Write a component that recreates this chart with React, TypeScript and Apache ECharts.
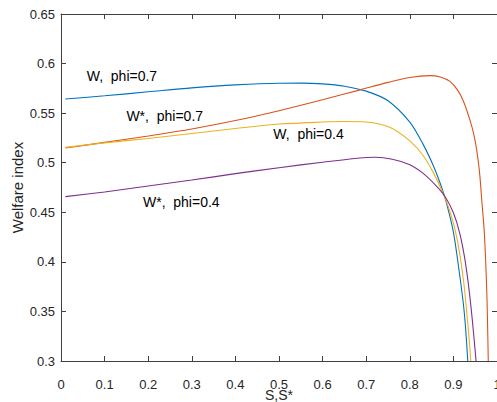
import React, { useEffect, useRef } from "react";
import * as echarts from "echarts";

const xTicks = [0, 0.1, 0.2, 0.3, 0.4, 0.5, 0.6, 0.7, 0.8, 0.9, 1];
const yTicks = [0.3, 0.35, 0.4, 0.45, 0.5, 0.55, 0.6, 0.65];

const seriesNames = ["W,  phi=0.7", "W*,  phi=0.7", "W,  phi=0.4", "W*,  phi=0.4"];
const seriesColors = ["#0072BD", "#D95319", "#EDB120", "#7E2F8E"];

const wPhi07: [number, number][] = [
  [0.01, 0.5643], [0.1, 0.5675], [0.2, 0.5715], [0.3, 0.5755], [0.4, 0.5785],
  [0.5, 0.5802], [0.55, 0.5803], [0.6, 0.5795], [0.65, 0.5772], [0.7, 0.5722],
  [0.75, 0.5625], [0.8, 0.541], [0.83, 0.519], [0.854, 0.497], [0.869, 0.48],
  [0.883, 0.461], [0.9, 0.43], [0.914, 0.388], [0.923, 0.357], [0.928, 0.333],
  [0.933, 0.30],
];
const wStarPhi07: [number, number][] = [
  [0.01, 0.5148], [0.1, 0.5205], [0.2, 0.527], [0.3, 0.534], [0.4, 0.5425],
  [0.5, 0.5525], [0.6, 0.5635], [0.686, 0.5735], [0.75, 0.581], [0.8, 0.586],
  [0.846, 0.5878], [0.87, 0.5865], [0.892, 0.582], [0.91, 0.573], [0.923, 0.562],
  [0.938, 0.543], [0.946, 0.53], [0.9534, 0.513], [0.96, 0.49], [0.965, 0.4624],
  [0.971, 0.4288], [0.976, 0.378], [0.978, 0.345], [0.98, 0.30],
];
const wPhi04: [number, number][] = [
  [0.01, 0.5155], [0.1, 0.52], [0.2, 0.5245], [0.3, 0.5295], [0.4, 0.5345],
  [0.5, 0.539], [0.6, 0.541], [0.65, 0.5415], [0.7, 0.541], [0.755, 0.5355],
  [0.8, 0.522], [0.831, 0.507], [0.854, 0.49], [0.873, 0.4725], [0.892, 0.451],
  [0.9076, 0.425], [0.9227, 0.383], [0.934, 0.333], [0.94, 0.30],
];
const wStarPhi04: [number, number][] = [
  [0.01, 0.4658], [0.1, 0.4705], [0.2, 0.4765], [0.3, 0.4825], [0.4, 0.489],
  [0.5, 0.495], [0.6, 0.5005], [0.7, 0.5053], [0.72, 0.5055], [0.76, 0.5035],
  [0.8, 0.498], [0.83, 0.4895], [0.86, 0.477], [0.88, 0.4665], [0.9, 0.4495],
  [0.915, 0.428], [0.928, 0.398], [0.94, 0.356], [0.952, 0.30],
];

const allSeries = [wPhi07, wStarPhi07, wPhi04, wStarPhi04];

// annotation anchor (left-middle of text) in data coordinates
const annotationPos: [number, number][] = [
  [0.059, 0.587],
  [0.15, 0.547],
  [0.487, 0.529],
  [0.188, 0.46],
];

export default function App() {
  const ref = useRef<HTMLDivElement>(null);
  useEffect(() => {
    if (!ref.current) return;
    const chart = echarts.init(ref.current, null, { renderer: "svg" });
    const axisColor = "#404040";
    const font = "Liberation Sans, Arial, Helvetica, sans-serif";
    const option: any = {
      animation: false,
      backgroundColor: "#ffffff",
      grid: {
        left: 61,
        right: 0,
        top: 14,
        bottom: 41,
        containLabel: false,
        outerBoundsMode: "none",
      },
      xAxis: [
        {
          type: "value",
          min: 0,
          max: 1,
          interval: 0.1,
          name: "S,S*",
          nameLocation: "middle",
          nameGap: 27,
          nameMoveOverlap: false,
          nameTextStyle: { fontFamily: font, fontSize: 14, lineHeight: 13, color: "#262626" },
          axisLine: { show: true, onZero: false, lineStyle: { color: axisColor, width: 1 } },
          axisTick: { show: true, inside: true, length: 5, lineStyle: { color: axisColor } },
          axisLabel: {
            margin: 18,
            fontFamily: font,
            fontSize: 13,
            lineHeight: 11,
            color: "#262626",
            formatter: (v: number) => {
              const t = xTicks.find((k) => Math.abs(k - v) < 1e-9);
              return t === undefined ? "" : String(t);
            },
          },
          splitLine: { show: false },
        },
        {
          type: "value",
          position: "top",
          min: 0,
          max: 1,
          interval: 0.1,
          axisLine: { show: true, onZero: false, lineStyle: { color: axisColor, width: 1 } },
          axisTick: { show: true, inside: true, length: 5, lineStyle: { color: axisColor } },
          axisLabel: { show: false },
          splitLine: { show: false },
        },
      ],
      yAxis: [
        {
          type: "value",
          min: 0.3,
          max: 0.65,
          interval: 0.05,
          name: "Welfare index",
          nameLocation: "middle",
          nameGap: 36,
          nameMoveOverlap: false,
          nameTextStyle: { fontFamily: font, fontSize: 15, color: "#262626" },
          axisLine: { show: true, onZero: false, lineStyle: { color: axisColor, width: 1 } },
          axisTick: { show: true, inside: true, length: 5, lineStyle: { color: axisColor } },
          axisLabel: {
            margin: 6,
            fontFamily: font,
            fontSize: 13,
            color: "#262626",
            formatter: (v: number) => {
              const t = yTicks.find((k) => Math.abs(k - v) < 1e-9);
              return t === undefined ? "" : String(t);
            },
          },
          splitLine: { show: false },
        },
        {
          type: "value",
          position: "right",
          min: 0.3,
          max: 0.65,
          interval: 0.05,
          axisLine: { show: true, onZero: false, lineStyle: { color: axisColor, width: 1 } },
          axisTick: { show: true, inside: true, length: 5, lineStyle: { color: axisColor } },
          axisLabel: { show: false },
          splitLine: { show: false },
        },
      ],
      series: allSeries.map((data, i) => ({
        type: "line",
        name: seriesNames[i],
        data,
        xAxisIndex: 0,
        yAxisIndex: 0,
        showSymbol: false,
        symbol: "none",
        smooth: 0.3,
        clip: true,
        lineStyle: { color: seriesColors[i], width: 1.1 },
        markPoint: {
          symbol: "circle",
          symbolSize: 0,
          silent: true,
          data: [
            {
              coord: annotationPos[i],
              label: {
                show: true,
                position: "inside",
                align: "left",
                verticalAlign: "middle",
                formatter: seriesNames[i],
                fontFamily: font,
                fontSize: 14,
                color: "#000000",
              },
            },
          ],
        },
      })),
    };
    chart.setOption(option);
    return () => chart.dispose();
  }, []);
  return (
    <div
      ref={ref}
      style={{ position: "absolute", left: 0, top: 0, width: 497, height: 402 }}
    />
  );
}
